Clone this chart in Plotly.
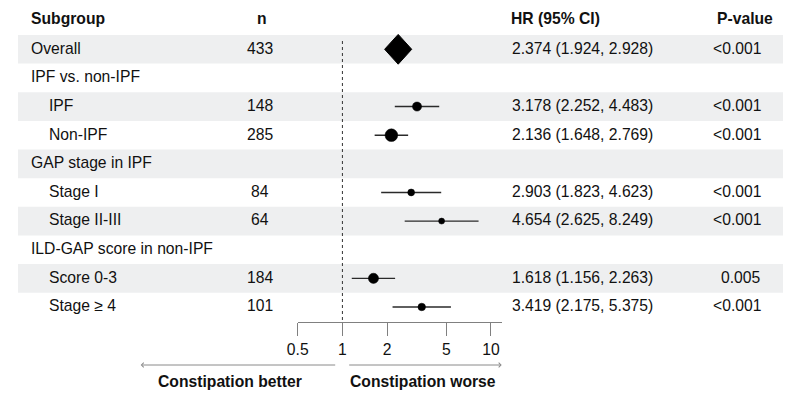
import math
import plotly.graph_objects as go

# ---------------- data ----------------
subgroups = ["Overall", "IPF vs. non-IPF", "IPF", "Non-IPF", "GAP stage in IPF",
             "Stage I", "Stage II-III", "ILD-GAP score in non-IPF", "Score 0-3", "Stage \u2265 4"]
is_child = [False, False, True, True, False, True, True, False, True, True]
n_values = [433, None, 148, 285, None, 84, 64, None, 184, 101]
hr_values = [2.374, None, 3.178, 2.136, None, 2.903, 4.654, None, 1.618, 3.419]
ci_low = [1.924, None, 2.252, 1.648, None, 1.823, 2.625, None, 1.156, 2.175]
ci_high = [2.928, None, 4.483, 2.769, None, 4.623, 8.249, None, 2.263, 5.375]
p_values = ["<0.001", "", "<0.001", "<0.001", "", "<0.001", "<0.001", "", "0.005", "<0.001"]
headers = ["Subgroup", "n", "HR (95% CI)", "P-value"]
tick_values = [0.5, 1, 2, 5, 10]
tick_labels = ["0.5", "1", "2", "5", "10"]
direction_labels = ["Constipation better", "Constipation worse"]
reference_hr = 1

# ---------------- layout helpers ----------------
W, H = 789, 398
ROW0, STEP = 49.3, 28.63          # pixel centre of first row, row spacing
def py2i(py):
    return 1 + (py - ROW0) / STEP
def px(x):
    return x / W
def py(y):
    return 1 - y / H

FONT = "Liberation Sans, Arial, sans-serif"
FS = 15.7
TXT = "#111111"

rows = list(range(1, len(subgroups) + 1))

fig = go.Figure()

# alternating row shading
shapes = []
for i in rows:
    if i % 2 == 1:
        shapes.append(dict(type="rect", xref="paper", yref="y", x0=px(18), x1=px(783),
                           y0=i - 0.5, y1=i + 0.5, fillcolor="#eeeff0",
                           line=dict(width=0), layer="below"))

# reference line at HR = 1
fig.add_trace(go.Scatter(x=[reference_hr, reference_hr], y=[py2i(41), py2i(322)],
                         mode="lines", line=dict(color="#333333", width=1, dash="3px,3px"),
                         hoverinfo="skip", showlegend=False))

# confidence interval lines (subgroups)
lx, ly = [], []
for i, h, lo, hi in zip(rows, hr_values, ci_low, ci_high):
    if h is None or i == 1:
        continue
    lx += [lo, hi, None]
    ly += [i, i, None]
fig.add_trace(go.Scatter(x=lx, y=ly, mode="lines", line=dict(color="#2a2a2a", width=1.4),
                         hoverinfo="skip", showlegend=False))

# point estimates (size by sqrt(n))
mx, my, ms = [], [], []
for i, h, nv in zip(rows, hr_values, n_values):
    if h is None or i == 1:
        continue
    mx.append(h); my.append(i); ms.append(0.75 * math.sqrt(nv))
fig.add_trace(go.Scatter(x=mx, y=my, mode="markers",
                         marker=dict(color="black", size=ms, opacity=1,
                                     line=dict(width=0.5, color="black")),
                         hoverinfo="skip", showlegend=False))

# overall diamond
half = 0.52
fig.add_trace(go.Scatter(x=[ci_low[0], hr_values[0], ci_high[0], hr_values[0], ci_low[0]],
                         y=[1, 1 - half, 1, 1 + half, 1], mode="lines", fill="toself",
                         fillcolor="black", line=dict(color="black", width=1),
                         hoverinfo="skip", showlegend=False))

# ---------------- text columns ----------------
ann = []
hdr_y = py2i(18)
ann.append(dict(x=px(29), y=hdr_y, text="<b>%s</b>" % headers[0], xanchor="left"))
ann.append(dict(x=px(261.7), y=hdr_y, text="<b>%s</b>" % headers[1], xanchor="center"))
ann.append(dict(x=px(509), y=hdr_y, text="<b>%s</b>" % headers[2], xanchor="left"))
ann.append(dict(x=px(715), y=hdr_y, text="<b>%s</b>" % headers[3], xanchor="left"))
for i, lab, ch, nv, h, lo, hi, p in zip(rows, subgroups, is_child, n_values,
                                         hr_values, ci_low, ci_high, p_values):
    yy = i - 0.04
    ann.append(dict(x=px(46.5 if ch else 29), y=yy, text=lab, xanchor="left"))
    if nv is not None:
        ann.append(dict(x=px(260.3), y=yy, text=str(nv), xanchor="center"))
    if h is not None:
        ann.append(dict(x=px(509.5), y=yy, text="%.3f (%.3f, %.3f)" % (h, lo, hi),
                        xanchor="left"))
    if p:
        ann.append(dict(x=px(763), y=yy, text=p, xanchor="right"))
for a in ann:
    a.update(xref="paper", yref="y", yanchor="middle", showarrow=False,
             font=dict(family=FONT, size=FS, color=TXT))

# direction arrows and labels
arrow_y = py(365)
ann.append(dict(xref="paper", yref="paper", x=px(140.7), y=arrow_y, ax=196, ay=0,
                text="", showarrow=True, arrowhead=4, arrowsize=0.9, arrowwidth=1,
                arrowcolor="#8a8a8a"))
ann.append(dict(xref="paper", yref="paper", x=px(501.7), y=arrow_y, ax=-154, ay=0,
                text="", showarrow=True, arrowhead=4, arrowsize=0.9, arrowwidth=1,
                arrowcolor="#8a8a8a"))
ann.append(dict(xref="paper", yref="paper", x=px(303.5), y=py(381), yanchor="middle",
                xanchor="right", text="<b>%s</b>" % direction_labels[0], showarrow=False,
                font=dict(family=FONT, size=FS, color=TXT)))
ann.append(dict(xref="paper", yref="paper", x=px(347.5), y=py(381), yanchor="middle",
                xanchor="left", text="<b>%s</b>" % direction_labels[1], showarrow=False,
                font=dict(family=FONT, size=FS, color=TXT)))

fig.update_layout(
    width=W, height=H, margin=dict(l=0, r=0, t=0, b=0, autoexpand=False),
    paper_bgcolor="white", plot_bgcolor="rgba(0,0,0,0)",
    showlegend=False, shapes=shapes, annotations=ann,
    xaxis=dict(type="log", domain=[px(297.7), px(501.7)],
               range=[math.log10(0.5), (501.7 - 342.7) / 148.3],
               anchor="free", position=py(322), automargin=False,
               showgrid=False, zeroline=False, showline=True, linecolor="#808080",
               linewidth=1, ticks="outside", ticklen=13, tickcolor="#808080",
               tickwidth=1, tickvals=tick_values, ticktext=tick_labels,
               tickfont=dict(family=FONT, size=FS, color=TXT)),
    yaxis=dict(domain=[0, 1], range=[py2i(H), py2i(0)], autorange=False,
               showgrid=False, zeroline=False, showline=False, automargin=False,
               showticklabels=False, ticks=""),
)

fig.write_html("out.html", config={"responsive": False, "displayModeBar": False},
               post_script="document.body.style.margin='0';document.body.style.overflow='hidden';")
